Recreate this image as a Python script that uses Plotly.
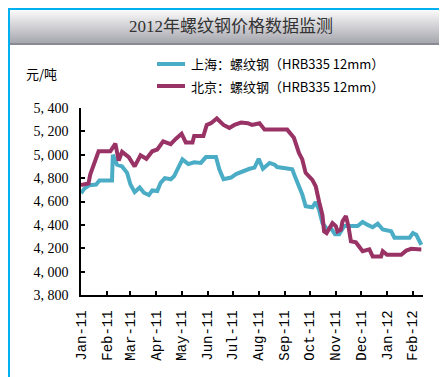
import plotly.graph_objects as go

# ---------------- data ----------------
sh_dates = ["2011-01-01","2011-01-05","2011-01-11","2011-01-19","2011-01-23","2011-02-07","2011-02-08",
            "2011-02-13","2011-02-19","2011-02-25","2011-03-01","2011-03-06","2011-03-12","2011-03-17",
            "2011-03-23","2011-03-27","2011-04-02","2011-04-06","2011-04-11","2011-04-18","2011-04-22",
            "2011-04-26","2011-05-02","2011-05-09","2011-05-16","2011-05-24","2011-05-30","2011-06-11",
            "2011-06-15","2011-06-20","2011-06-29","2011-07-05","2011-07-13","2011-07-21","2011-07-27",
            "2011-08-01","2011-08-06","2011-08-14","2011-08-20","2011-08-23","2011-09-02","2011-09-10",
            "2011-09-14","2011-09-18","2011-09-22","2011-09-26","2011-10-04","2011-10-08","2011-10-12",
            "2011-10-16","2011-10-22","2011-10-26","2011-10-31","2011-11-05","2011-11-11","2011-11-27",
            "2011-12-03","2011-12-09","2011-12-15","2011-12-21","2011-12-27","2012-01-06","2012-01-10",
            "2012-01-28","2012-02-01","2012-02-05","2012-02-11"]
sh_values = [4670,4710,4740,4745,4780,4780,5000,
             4915,4900,4845,4745,4680,4720,4675,
             4655,4695,4690,4760,4800,4790,4815,
             4875,4960,4920,4935,4930,4980,4980,
             4875,4790,4805,4835,4860,4880,4890,
             4965,4880,4930,4915,4895,4885,4875,
             4800,4730,4660,4560,4550,4595,4530,
             4415,4360,4375,4320,4320,4390,4390,
             4425,4400,4380,4410,4360,4345,4290,
             4290,4330,4315,4230]

bj_dates = ["2011-01-01","2011-01-10","2011-01-12","2011-01-18","2011-01-22","2011-02-05","2011-02-11",
            "2011-02-15","2011-02-19","2011-02-27","2011-03-06","2011-03-13","2011-03-20","2011-03-27",
            "2011-04-02","2011-04-09","2011-04-18","2011-04-24","2011-05-01","2011-05-06","2011-05-14",
            "2011-05-16","2011-05-27","2011-05-31","2011-06-05","2011-06-12","2011-06-20","2011-06-27",
            "2011-07-03","2011-07-11","2011-07-19","2011-07-24","2011-08-02","2011-08-08","2011-09-04",
            "2011-09-12","2011-09-18","2011-09-22","2011-09-26","2011-10-04","2011-10-08","2011-10-12",
            "2011-10-16","2011-10-18","2011-10-21","2011-10-28","2011-11-01","2011-11-03","2011-11-07",
            "2011-11-09","2011-11-13","2011-11-16","2011-11-19","2011-11-25","2011-12-03","2011-12-11",
            "2011-12-15","2011-12-25","2011-12-27","2012-01-01","2012-01-18","2012-01-24","2012-01-30",
            "2012-02-11"]
bj_values = [4740,4755,4830,4945,5030,5030,5095,
             4950,5025,4980,4900,4995,4965,5030,
             5045,5115,5090,5135,5180,5105,5105,
             5160,5160,5255,5270,5310,5255,5230,
             5255,5275,5270,5255,5270,5215,5215,
             5145,5015,4960,4845,4785,4730,4600,
             4485,4345,4330,4415,4390,4345,4360,
             4430,4475,4390,4260,4250,4175,4190,
             4130,4130,4175,4145,4145,4180,4195,
             4190]

series_names = ["上海：螺纹钢（HRB335 12mm）", "北京：螺纹钢（HRB335 12mm）"]
y_ticks = [3800, 4000, 4200, 4400, 4600, 4800, 5000, 5200, 5400]
title_text = "2012年螺纹钢价格数据监测"
unit_text = "元/吨"

# ---------------- figure ----------------
W, H = 447, 377
L, R, T, B = 73, 32, 100, 90
PW, PH = W - L - R, H - T - B


def px(x):
    return (x - L) / PW


def py(y):
    return (H - B - y) / PH


fig = go.Figure()
fig.add_trace(go.Scatter(x=sh_dates, y=sh_values, mode="lines", name=series_names[0],
                         line=dict(color="#4BACC6", width=4), showlegend=False))
fig.add_trace(go.Scatter(x=bj_dates, y=bj_values, mode="lines", name=series_names[1],
                         line=dict(color="#993366", width=4), showlegend=False))

shapes = []
# header gradient
top, bot = 2, 35
n = bot - top
for i in range(n):
    t = i / (n - 1)
    c0 = (250, 250, 250)
    c1 = (168, 168, 176)
    c = tuple(int(c0[k] + (c1[k] - c0[k]) * t) for k in range(3))
    shapes.append(dict(type="rect", xref="paper", yref="paper",
                       x0=px(2), x1=px(445), y0=py(top + i + 1), y1=py(top + i),
                       fillcolor="rgb(%d,%d,%d)" % c, line=dict(width=0), layer="below"))
shapes.append(dict(type="rect", xref="paper", yref="paper",
                   x0=px(2), x1=px(445), y0=py(37), y1=py(35),
                   fillcolor="#8A8A92", line=dict(width=0), layer="below"))
# outer border
shapes.append(dict(type="rect", xref="paper", yref="paper",
                   x0=px(1), x1=px(446), y0=py(376), y1=py(1),
                   line=dict(color="#00B0F0", width=2), fillcolor="rgba(0,0,0,0)"))
# legend lines
for yy, col in [(56, "#4BACC6"), (78, "#993366")]:
    shapes.append(dict(type="line", xref="paper", yref="paper",
                       x0=px(149), x1=px(177), y0=py(yy), y1=py(yy),
                       line=dict(color=col, width=4)))

annotations = [
    dict(text=title_text, xref="paper", yref="paper", x=px(223), y=py(18),
         showarrow=False, xanchor="center", yanchor="middle",
         font=dict(family="Liberation Serif, Noto Sans CJK SC", size=17, color="#333333")),
    dict(text=unit_text, xref="paper", yref="paper", x=px(16), y=py(66),
         showarrow=False, xanchor="left", yanchor="middle",
         font=dict(family="Noto Sans CJK SC", size=13, color="#000000")),
    dict(text=series_names[0], xref="paper", yref="paper", x=px(181), y=py(56),
         showarrow=False, xanchor="left", yanchor="middle",
         font=dict(family="Noto Sans CJK SC", size=13, color="#000000")),
    dict(text=series_names[1], xref="paper", yref="paper", x=px(181), y=py(78),
         showarrow=False, xanchor="left", yanchor="middle",
         font=dict(family="Noto Sans CJK SC", size=13, color="#000000")),
]

fig.update_layout(
    width=W, height=H,
    margin=dict(l=L, r=R, t=T, b=B),
    paper_bgcolor="white", plot_bgcolor="white",
    shapes=shapes, annotations=annotations,
    showlegend=False,
    xaxis=dict(type="date", range=["2011-01-01", "2012-02-13"],
               dtick="M1", tick0="2011-01-01", tickformat="%b-%y", tickangle=-90,
               ticks="inside", ticklen=4, tickcolor="black", tickwidth=1.5,
               showline=True, linecolor="black", linewidth=1.5, showgrid=False,
               zeroline=False, ticklabelstandoff=8,
               tickfont=dict(family="Liberation Mono", size=14, color="black")),
    yaxis=dict(range=[3800, 5400], tickvals=y_ticks,
               ticktext=[f"{v:,}".replace(",", ", ") for v in y_ticks],
               ticks="inside", ticklen=4, tickcolor="black", tickwidth=1.5,
               showline=True, linecolor="black", linewidth=1.5, showgrid=False,
               zeroline=False, ticklabelstandoff=8,
               tickfont=dict(family="Liberation Serif", size=14, color="black")),
)

fig.write_html("out.html")
